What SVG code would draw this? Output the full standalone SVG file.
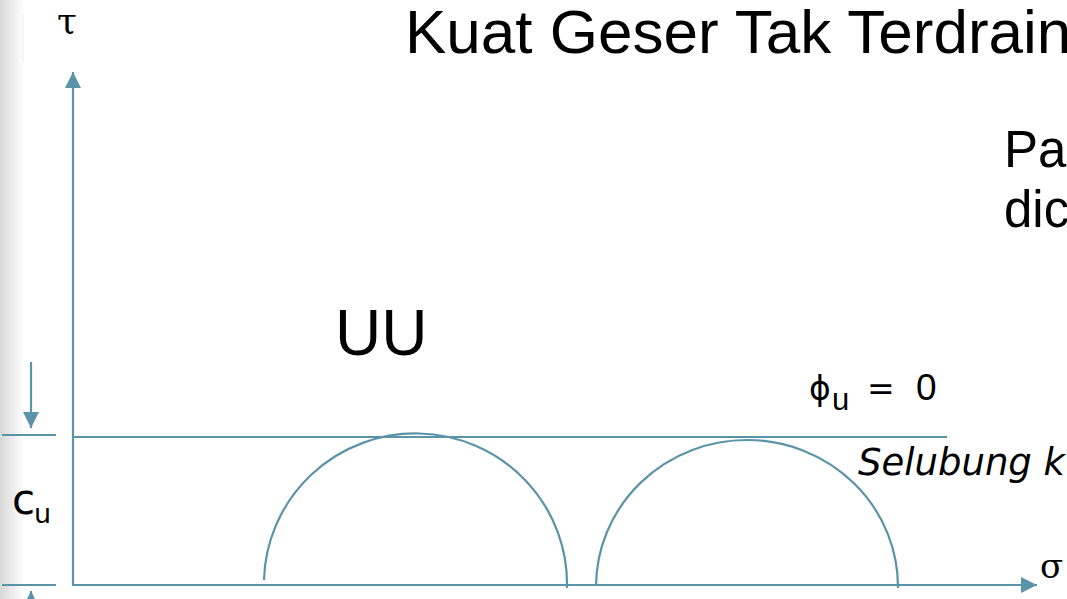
<svg xmlns="http://www.w3.org/2000/svg" width="1067" height="599" viewBox="0 0 1067 599">
<defs>
<linearGradient id="edge" x1="0" y1="0" x2="1" y2="0">
<stop offset="0" stop-color="#d8d8d8"/>
<stop offset="1" stop-color="#ffffff"/>
</linearGradient>
<marker id="ah" viewBox="0 0 10 10" refX="10" refY="5" markerWidth="16" markerHeight="17" markerUnits="userSpaceOnUse" orient="auto">
<path d="M0,0 L10,5 L0,10 Z" fill="#5b93a8"/>
</marker>
<style>
.ln{stroke:#5b93a8;stroke-width:2.2;fill:none}
.a{font-family:"Liberation Sans",Arial,sans-serif;fill:#000}
.t{font-family:"DejaVu Sans",Verdana,sans-serif;fill:#000}
.s{font-family:"DejaVu Serif","Liberation Serif",serif;fill:#000}
</style>
</defs>
<rect width="1067" height="599" fill="#fff"/>
<rect x="0" y="0" width="24" height="599" fill="url(#edge)"/>
<line x1="23" y1="15" x2="23" y2="62" stroke="#ececec" stroke-width="1"/>
<g id="texts">
<text class="a" x="405" y="53" font-size="62">Kuat Geser Tak Terdrain</text>
<text class="a" x="1004" y="167" font-size="51">Pa</text>
<text class="a" x="1004" y="227" font-size="51">dic</text>
<text class="a" x="335" y="355" font-size="64">UU</text>
<text class="t" x="809" y="400" font-size="33">ϕ</text>
<text class="a" x="832" y="410" font-size="31">u</text>
<text class="t" x="867" y="400" font-size="33">=</text>
<text class="a" x="916" y="400" font-size="37">0</text>
<text class="t" x="858" y="475" font-size="37" font-style="italic">Selubung k</text>
<text class="t" x="12" y="514" font-size="42">c</text>
<text class="t" x="34" y="523" font-size="27">u</text>
<text class="s" x="57" y="33" font-size="36">τ</text>
<text class="s" x="1040" y="578" font-size="34">σ</text>
</g>
<g id="connectors">
<line class="ln" x1="73" y1="586" x2="73" y2="72" marker-end="url(#ah)"/>
<line class="ln" x1="72" y1="585" x2="1037" y2="585" marker-end="url(#ah)"/>
<line class="ln" x1="73" y1="437" x2="947" y2="437"/>
<line class="ln" x1="2" y1="435" x2="56" y2="435"/>
<line class="ln" x1="2" y1="585" x2="56" y2="585"/>
<line class="ln" x1="31" y1="362" x2="31" y2="428" marker-end="url(#ah)"/>
<line class="ln" x1="31" y1="612" x2="31" y2="591" marker-end="url(#ah)"/>
<path class="ln" d="M264,580 A151,150 0 0 1 567,588"/>
<path class="ln" d="M596,586 A151,147 0 0 1 898,588"/>
</g>
</svg>
